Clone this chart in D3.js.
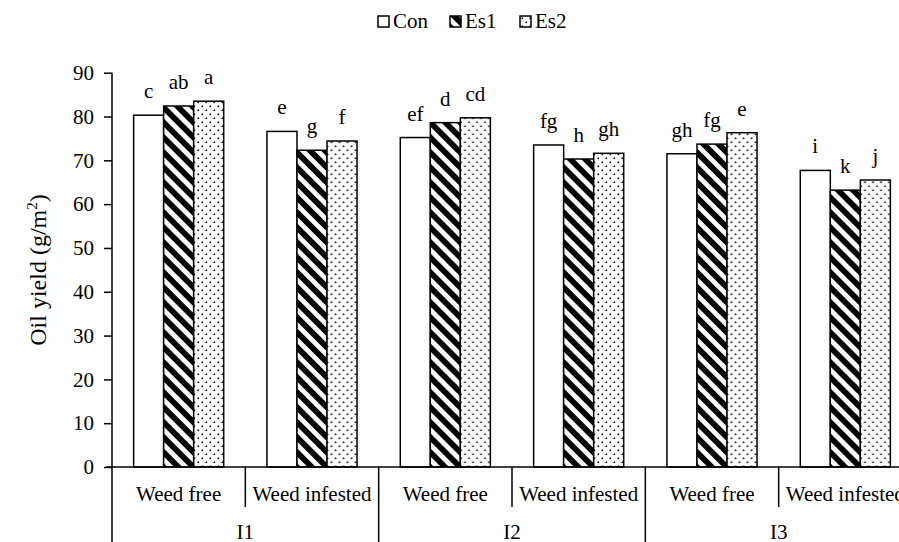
<!DOCTYPE html>
<html>
<head>
<meta charset="utf-8">
<script src="https://cdn.jsdelivr.net/npm/d3@7"></script>
<style>
  body { margin: 0; background: #fff; }
  text { font-family: "Liberation Serif", "Times New Roman", serif; fill: #000; }
</style>
</head>
<body>
<svg id="chart" width="899" height="542"></svg>
<script>
// data
var irrigation = ["I1", "I2", "I3"];
var weedLevels = ["Weed free", "Weed infested"];
var series = ["Con", "Es1", "Es2"];
var conValues = [80.3, 76.6, 75.2, 73.5, 71.5, 67.7];
var es1Values = [82.4, 72.3, 78.6, 70.3, 73.7, 63.2];
var es2Values = [83.5, 74.4, 79.7, 71.6, 76.3, 65.5];
var conLetters = ["c", "e", "ef", "fg", "gh", "i"];
var es1Letters = ["ab", "g", "d", "h", "fg", "k"];
var es2Letters = ["a", "f", "cd", "gh", "e", "j"];
var yTicks = [0, 10, 20, 30, 40, 50, 60, 70, 80, 90];

var svg = d3.select("#chart"),
    width = +svg.attr("width"),
    height = +svg.attr("height");

var plotLeft = 112, plotRight = 912, plotTop = 72.7, plotBottom = 467;

// one row per bar group (irrigation x weed level)
var groups = [];
irrigation.forEach(function (irr, i) {
  weedLevels.forEach(function (w, j) {
    var k = i * 2 + j;
    groups.push({
      key: irr + "|" + w, irr: irr, weed: w,
      values: [conValues[k], es1Values[k], es2Values[k]],
      letters: [conLetters[k], es1Letters[k], es2Letters[k]]
    });
  });
});

var x0 = d3.scaleBand()
  .domain(groups.map(function (d) { return d.key; }))
  .range([plotLeft, plotRight]);

var xOuter = d3.scaleBand()
  .domain(irrigation)
  .range([plotLeft, plotRight]);

var x1 = d3.scaleBand()
  .domain(series)
  .range([0, x0.bandwidth()])
  .paddingOuter(0.72);

var y = d3.scaleLinear()
  .domain([0, 90])
  .range([plotBottom, plotTop]);

var defs = svg.append("defs");

var stripes = defs.append("pattern")
  .attr("id", "stripes")
  .attr("patternUnits", "userSpaceOnUse")
  .attr("width", 10.6)
  .attr("height", 10.6)
  .attr("patternTransform", "rotate(-45)");
stripes.append("rect").attr("width", 10.6).attr("height", 10.6).attr("fill", "#fff");
stripes.append("rect").attr("width", 5.8).attr("height", 10.6).attr("fill", "#000");

var dots = defs.append("pattern")
  .attr("id", "dots")
  .attr("patternUnits", "userSpaceOnUse")
  .attr("width", 8)
  .attr("height", 8);
dots.append("rect").attr("width", 8).attr("height", 8).attr("fill", "#fff");
dots.append("rect").attr("x", 1.5).attr("y", 1.5).attr("width", 1.6).attr("height", 1.6).attr("fill", "#000");
dots.append("rect").attr("x", 5.5).attr("y", 5.5).attr("width", 1.6).attr("height", 1.6).attr("fill", "#000");

var fills = { Con: "#fff", Es1: "url(#stripes)", Es2: "url(#dots)" };

// bars
var g = svg.append("g").selectAll("g")
  .data(groups)
  .enter().append("g")
    .attr("transform", function (d) { return "translate(" + x0(d.key) + ",0)"; });

function barRows(d) {
  return series.map(function (s, i) { return { s: s, v: d.values[i], l: d.letters[i] }; });
}

g.selectAll("rect")
  .data(barRows)
  .enter().append("rect")
    .attr("x", function (d) { return x1(d.s); })
    .attr("y", function (d) { return y(d.v); })
    .attr("width", x1.bandwidth())
    .attr("height", function (d) { return y(0) - y(d.v); })
    .attr("fill", function (d) { return fills[d.s]; })
    .attr("stroke", "#000")
    .attr("stroke-width", 1.5);

g.selectAll("text")
  .data(barRows)
  .enter().append("text")
    .attr("x", function (d) { return x1(d.s) + x1.bandwidth() / 2; })
    .attr("y", function (d) { return y(d.v) - 17; })
    .attr("text-anchor", "middle")
    .attr("font-size", 21)
    .text(function (d) { return d.l; });

// y axis
var yAxis = svg.append("g")
  .attr("transform", "translate(" + plotLeft + ",0)")
  .call(d3.axisLeft(y).tickValues(yTicks).tickSize(8).tickPadding(10));
yAxis.select(".domain").remove();
yAxis.selectAll("line").attr("stroke", "#000").attr("stroke-width", 1.5);
yAxis.selectAll("text")
  .attr("font-size", 21)
  .attr("fill", "#000");

svg.append("line")
  .attr("x1", plotLeft).attr("x2", plotLeft)
  .attr("y1", plotTop).attr("y2", height)
  .attr("stroke", "#000").attr("stroke-width", 1.5);

svg.append("line")
  .attr("x1", plotLeft - 6).attr("x2", width)
  .attr("y1", plotBottom).attr("y2", plotBottom)
  .attr("stroke", "#000").attr("stroke-width", 1.5);

// category axis: weed level separators and labels
svg.append("g").selectAll("line")
  .data(groups.filter(function (d) { return d.weed === "Weed infested"; }))
  .enter().append("line")
    .attr("x1", function (d) { return x0(d.key); })
    .attr("x2", function (d) { return x0(d.key); })
    .attr("y1", plotBottom).attr("y2", plotBottom + 40)
    .attr("stroke", "#000").attr("stroke-width", 1.5);

svg.append("g").selectAll("line")
  .data(irrigation.slice(1))
  .enter().append("line")
    .attr("x1", function (d) { return xOuter(d); })
    .attr("x2", function (d) { return xOuter(d); })
    .attr("y1", plotBottom).attr("y2", height)
    .attr("stroke", "#000").attr("stroke-width", 1.5);

svg.append("g").selectAll("text")
  .data(groups)
  .enter().append("text")
    .attr("x", function (d) { return x0(d.key) + x0.bandwidth() / 2; })
    .attr("y", 501)
    .attr("text-anchor", "middle")
    .attr("font-size", 21)
    .text(function (d) { return d.weed; });

svg.append("g").selectAll("text")
  .data(irrigation)
  .enter().append("text")
    .attr("x", function (d) { return xOuter(d) + xOuter.bandwidth() / 2; })
    .attr("y", 539)
    .attr("text-anchor", "middle")
    .attr("font-size", 21)
    .text(function (d) { return d; });

// y title
var title = svg.append("text")
  .attr("transform", "translate(46,270) rotate(-90)")
  .attr("text-anchor", "middle")
  .attr("font-size", 24);
title.append("tspan").text("Oil yield (g/m");
title.append("tspan").attr("font-size", 15).attr("dy", -9).text("2");
title.append("tspan").attr("dy", 9).text(")");

// legend
var legendX = [378, 450, 520];
var legend = svg.append("g").selectAll("g")
  .data(series)
  .enter().append("g")
    .attr("transform", function (d, i) { return "translate(" + legendX[i] + ",16)"; });
legend.append("rect")
  .attr("width", 11).attr("height", 11)
  .attr("fill", function (d) { return fills[d]; })
  .attr("stroke", "#000").attr("stroke-width", 1.5);
legend.append("text")
  .attr("x", 15).attr("y", 12)
  .attr("font-size", 21)
  .text(function (d) { return d; });
</script>
</body>
</html>
